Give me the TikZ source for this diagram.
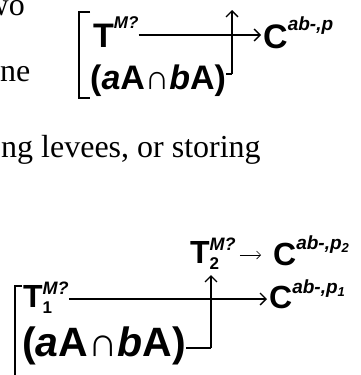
\documentclass[tikz,border=0pt]{standalone}
\usepackage{fontspec}
\setmainfont{Liberation Serif}
\newfontfamily\arialfont{Liberation Sans}
\usetikzlibrary{arrows.meta}
\newcommand{\supx}[3]{\raisebox{#2}{\fontsize{#1}{#1}\selectfont\bfseries\itshape #3}}
\newcommand{\subx}[3]{\rlap{\raisebox{-#2}{\fontsize{#1}{#1}\selectfont\bfseries #3}}}

\begin{document}
\begin{tikzpicture}[x=1pt,y=-1pt,>={Straight Barb[length=6pt,width=12pt]}]
\tikzstyle{prose}=[inner sep=0pt,font=\fontsize{32}{32}\selectfont]
\tikzstyle{term}=[inner sep=0pt,font=\arialfont\fontsize{34}{34}\selectfont\bfseries]
\tikzstyle{termb}=[inner sep=0pt,font=\arialfont\fontsize{32}{32}\selectfont\bfseries]
\tikzstyle{conn}=[->,line width=1.4pt]
\useasboundingbox (0,0) rectangle (360,375);
\node[prose,anchor=base east] (w1) at (25,15) {wo};
\node[prose,anchor=base west] (w2) at (0,81) {ne};
\node[prose,anchor=base west] (w3) at (1,157) {ng levees, or storing};
\draw[line width=1.3pt] (90,12) -- (79,12) -- (79,98) -- (90,98);
\node[term,anchor=base west] (1) at (93,47) {T\supx{17}{19pt}{M?}};
\node[term,anchor=base west] (2) at (263,48) {C\supx{19}{18pt}{ab-,p}};
\node[term,anchor=base west] (3) at (90,89) {(\textit{a}A{\mdseries∩}\textit{b}A)};
\coordinate (k1) at (232,74);
\coordinate (u1) at (232,10);
\draw[conn,shorten >=2pt] ([yshift=12pt]1.base east) -- ([yshift=12pt]1.base east -| 2.west);
\draw[line width=1.4pt] (3.east |- k1) -- (k1);
\draw[conn] (k1) -- (u1);
\draw[line width=1.3pt] (22,286) -- (15,286) -- (15,380);
\node[termb,anchor=base west] (4) at (23,307) {T\subx{17}{6pt}{1}\supx{18}{13pt}{M?}};
\node[termb,anchor=base west] (5) at (269,308) {C\supx{19}{15pt}{ab-,p\subx{13}{3pt}{1}}};
\node[termb,anchor=base west,font=\arialfont\fontsize{41}{41}\selectfont\bfseries] (6) at (22,356) {(\textit{a}A{\mdseries∩}\textit{b}A)};
\node[termb,anchor=base west] (7) at (190,263) {T\subx{17}{6pt}{2}\supx{18}{13pt}{M?}};
\node[termb,anchor=base west] (8) at (273,265) {C\supx{19}{16pt}{ab-,p\subx{13}{3pt}{2}}};
\coordinate (k2) at (211,348);
\coordinate (u2) at (211,275);
\draw[conn,shorten >=2pt] ([yshift=8pt]4.base east) -- ([yshift=8pt]4.base east -| 5.west);
\draw[line width=1.4pt] (6.east |- k2) -- (k2);
\draw[conn] (k2) -- (u2);
\draw[->,line width=0.7pt,shorten <=4pt,shorten >=12pt,>={Straight Barb[length=4pt,width=8pt]}] ([yshift=8pt]7.base east) -- ([yshift=8pt]7.base east -| 8.west);
\end{tikzpicture}
\end{document}
